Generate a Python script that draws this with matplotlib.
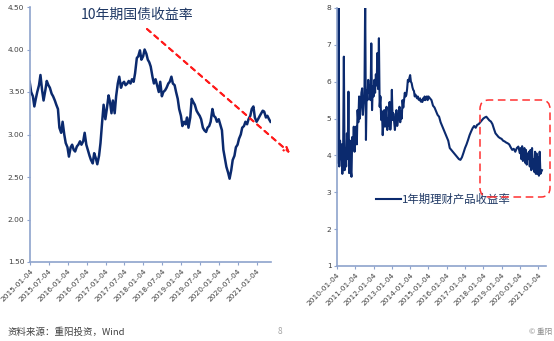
import numpy as np
import pandas as pd
import matplotlib
matplotlib.use("Agg")
import matplotlib.pyplot as plt
from matplotlib.patches import FancyBboxPatch
from matplotlib.transforms import IdentityTransform

plt.rcParams["font.family"] = ["Noto Sans CJK SC", "DejaVu Sans"]

NAVY = "#0b2a6e"
SPINE = "#8ea3cc"
TICK_TXT = "#404040"

# 10-year government bond yield, semi-monthly readings from 2015-01
cgb_start = "2015-01-01"
cgb_yield = [
    3.62, 3.50, 3.45, 3.33, 3.42, 3.50, 3.58, 3.70, 3.52, 3.40,
    3.52, 3.63, 3.58, 3.55, 3.48, 3.45, 3.40, 3.35, 3.30, 3.08,
    3.02, 3.15, 3.00, 2.90, 2.85, 2.74, 2.85, 2.88, 2.82, 2.80,
    2.86, 2.88, 2.92, 2.88, 2.92, 3.02, 2.88, 2.82, 2.75, 2.70,
    2.66, 2.78, 2.72, 2.65, 2.75, 2.90, 3.15, 3.35, 3.18, 3.30,
    3.46, 3.38, 3.25, 3.40, 3.25, 3.45, 3.60, 3.68, 3.55, 3.60,
    3.62, 3.58, 3.60, 3.63, 3.60, 3.65, 3.62, 3.72, 3.90, 3.92,
    3.99, 3.88, 3.92, 4.00, 3.95, 3.88, 3.85, 3.80, 3.68, 3.60,
    3.65, 3.58, 3.50, 3.62, 3.45, 3.50, 3.52, 3.55, 3.60, 3.62,
    3.68, 3.60, 3.58, 3.50, 3.42, 3.30, 3.22, 3.10, 3.15, 3.12,
    3.20, 3.08, 3.20, 3.42, 3.38, 3.35, 3.28, 3.25, 3.22, 3.18,
    3.08, 3.05, 3.03, 3.08, 3.10, 3.15, 3.30, 3.22, 3.20, 3.15,
    3.18, 3.12, 3.05, 2.82, 2.72, 2.62, 2.55, 2.48, 2.58, 2.70,
    2.75, 2.85, 2.88, 2.95, 3.00, 3.08, 3.10, 3.15, 3.12, 3.18,
    3.22, 3.30, 3.33, 3.20, 3.15, 3.18, 3.22, 3.25, 3.28, 3.27,
    3.20, 3.22, 3.18, 3.15,
]
cgb_ticks = ["2015-01-04", "2015-07-04", "2016-01-04", "2016-07-04", "2017-01-04",
             "2017-07-04", "2018-01-04", "2018-07-04", "2019-01-04", "2019-07-04",
             "2020-01-04", "2020-07-04", "2021-01-04"]
cgb_yticks = [1.50, 2.00, 2.50, 3.00, 3.50, 4.00, 4.50]

# 1-year wealth management product yield, months after 2010-01-04
wmp_months = list(np.arange(0, 60, 0.5)) + list(np.arange(60, 120, 1.0)) + list(np.arange(120, 135, 0.5))
wmp_yield = [
    # 2010-2014, half-month readings
    5.60, 3.80, 8.20, 3.70, 4.40, 3.90, 4.30, 3.50, 4.00, 6.68,
    3.60, 4.20, 3.70, 4.60, 3.90, 5.73, 3.52, 4.40, 3.60, 3.42,
    4.50, 4.20, 4.78, 4.10, 4.50, 4.78, 4.30, 5.23, 4.90, 5.60,
    5.00, 5.30, 5.70, 5.82, 5.10, 5.42, 5.60, 8.30, 4.42, 5.77,
    5.50, 6.05, 5.69, 5.90, 5.50, 7.04, 5.23, 5.87, 5.60, 6.05,
    5.70, 6.20, 5.90, 6.78, 5.80, 7.18, 5.32, 5.60, 4.96, 5.20,
    4.55, 5.00, 5.23, 4.78, 5.10, 5.32, 4.69, 5.00, 4.80, 5.45,
    4.70, 5.05, 5.78, 4.96, 5.14, 4.90, 4.69, 5.00, 5.23, 4.80,
    4.96, 5.10, 5.32, 4.90, 5.20, 5.00, 5.50, 5.30, 5.50, 5.70,
    5.60, 5.64, 5.80, 6.05, 6.00, 6.10, 6.18, 6.00, 5.96, 5.85,
    5.78, 5.75, 5.60, 5.65, 5.60, 5.55, 5.60, 5.52, 5.50, 5.55,
    5.46, 5.50, 5.45, 5.55, 5.50, 5.60, 5.50, 5.58, 5.60, 5.50,
    # 2015-2019, monthly readings
    5.60, 5.55, 5.50, 5.35, 5.30, 5.20, 5.10, 5.05, 4.90, 4.80,
    4.70, 4.60, 4.50, 4.40, 4.20, 4.15, 4.10, 4.05, 4.00, 3.95,
    3.90, 3.88, 3.95, 4.07, 4.20, 4.30, 4.42, 4.55, 4.65, 4.74,
    4.80, 4.75, 4.83, 4.85, 4.90, 4.95, 5.00, 5.03, 5.05, 5.00,
    4.95, 4.92, 4.85, 4.72, 4.60, 4.55, 4.50, 4.47, 4.45, 4.40,
    4.38, 4.35, 4.33, 4.30, 4.22, 4.15, 4.18, 4.10, 4.20, 4.24,
    # 2020-2021, half-month readings
    4.06, 4.20, 3.90, 4.25, 3.85, 4.10, 4.20, 3.80, 4.15, 3.75,
    4.05, 3.90, 4.10, 3.70, 4.15, 3.60, 4.20, 3.65, 3.90, 3.55,
    4.10, 3.50, 4.05, 3.50, 3.95, 3.45, 4.10, 3.50, 3.55, 3.60,
]
wmp_ticks = ["2010-01-04", "2011-01-04", "2012-01-04", "2013-01-04", "2014-01-04",
             "2015-01-04", "2016-01-04", "2017-01-04", "2018-01-04", "2019-01-04",
             "2020-01-04", "2021-01-04"]
wmp_yticks = [1, 2, 3, 4, 5, 6, 7, 8]

cgb_dates = pd.date_range(cgb_start, periods=len(cgb_yield), freq="SMS")
wmp_dates = [pd.Timestamp("2010-01-04") + pd.Timedelta(days=m * 30.44) for m in wmp_months]

fig = plt.figure(figsize=(5.54, 3.41), dpi=100)


def style_axis(ax, ticks, xmin, xmax):
    for side in ["top", "right"]:
        ax.spines[side].set_visible(False)
    for side in ["left", "bottom"]:
        ax.spines[side].set_color(SPINE)
        ax.spines[side].set_linewidth(1.2)
    tick_dates = pd.to_datetime(ticks)
    ax.set_xticks(tick_dates)
    ax.set_xticklabels(ticks, rotation=45, ha="right", rotation_mode="anchor",
                       fontsize=5.4, family="DejaVu Sans")
    ax.set_xlim(pd.Timestamp(xmin), pd.Timestamp(xmax))
    ax.tick_params(axis="both", color=SPINE, labelcolor=TICK_TXT,
                   length=2.5, width=0.8, pad=1.5)


# left panel
ax1 = fig.add_axes([30 / 554, 1 - 262 / 341, 241 / 554, 255 / 341])
ax1.plot(cgb_dates, cgb_yield, color=NAVY, lw=1.8)
ax1.set_ylim(1.5, 4.5)
ax1.set_yticks(cgb_yticks)
ax1.set_yticklabels([f"{v:.2f}" for v in cgb_yticks], fontsize=5.4, family="DejaVu Sans")
style_axis(ax1, cgb_ticks, "2015-01-04", "2021-05-20")
ax1.text(0.445, 0.97, "10年期国债收益率", transform=ax1.transAxes, ha="center", va="center",
         fontsize=10, color="#1f3864")

# right panel
ax2 = fig.add_axes([337 / 554, 1 - 266 / 341, 209 / 554, 258 / 341])
ax2.plot(wmp_dates, wmp_yield, color=NAVY, lw=1.5, label="1年期理财产品收益率")
ax2.set_ylim(1, 8)
ax2.set_yticks(wmp_yticks)
ax2.set_yticklabels([str(v) for v in wmp_yticks], fontsize=5.4, family="DejaVu Sans")
style_axis(ax2, wmp_ticks, "2010-01-04", "2021-06-10")
leg = ax2.legend(loc="center left", bbox_to_anchor=(0.16, 0.26), frameon=False,
                 prop={"family": "Noto Sans CJK SC", "size": 8.2},
                 handlelength=2.2, handletextpad=0.1, borderpad=0)
for t in leg.get_texts():
    t.set_color("#1f3864")

# red dashed trend arrow across the left panel
fig.add_artist(plt.annotate("", xy=(290, 188), xytext=(147, 312), xycoords="figure pixels",
                            textcoords="figure pixels",
                            arrowprops=dict(arrowstyle="->", color="#ff1a1a", lw=1.4,
                                            linestyle=(0, (2.5, 2.5)), shrinkA=0, shrinkB=0,
                                            mutation_scale=8)))

# red dashed rounded box over the recent period
box = FancyBboxPatch((480, 144), 70, 97, boxstyle="round,pad=0,rounding_size=9",
                     transform=IdentityTransform(), fill=False, edgecolor="#ff3030",
                     lw=1.1, linestyle=(0, (5, 3)))
fig.add_artist(box)

# footer
fig.text(8 / 554, 1 - 332 / 341, "资料来源：重阳投资，Wind", fontsize=6.8, color="#404040",
         va="center", ha="left")
fig.text(280 / 554, 1 - 332 / 341, "8", fontsize=6, color="#a6a6a6", va="center", ha="center")
fig.text(552 / 554, 1 - 332 / 341, "© 重阳", fontsize=5.5, color="#8c8c8c", va="center", ha="right")

fig.savefig("out.png", dpi=100)
